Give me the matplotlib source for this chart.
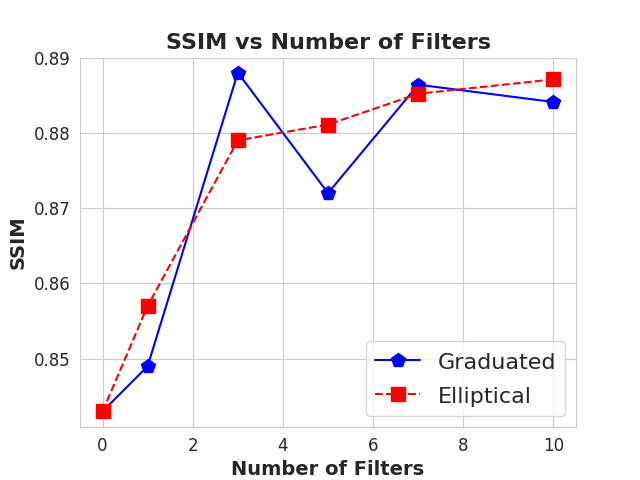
import matplotlib
matplotlib.use("Agg")
import matplotlib.pyplot as plt
import seaborn as sns

sns.set_style("whitegrid")

filters = [0, 1, 3, 5, 7, 10]
graduated = [0.843, 0.849, 0.888, 0.872, 0.8864, 0.8841]
elliptical = [0.843, 0.857, 0.879, 0.8811, 0.8852, 0.8871]

fig, ax = plt.subplots(figsize=(6.4, 4.8), dpi=100)
ax.plot(filters, graduated, color="blue", linestyle="-", marker="p", markersize=10, label="Graduated")
ax.plot(filters, elliptical, color="red", linestyle="--", marker="s", markersize=10, label="Elliptical")
ax.set_title("SSIM vs Number of Filters", fontsize=16, fontweight="bold")
ax.set_xlabel("Number of Filters", fontsize=14, fontweight="bold")
ax.set_ylabel("SSIM", fontsize=14, fontweight="bold")
ax.tick_params(labelsize=12)
ax.set_ylim(0.8409, 0.89)
ax.legend(loc="lower right", fontsize=16, handleheight=1.2, labelspacing=0.5)
fig.savefig("out.png", dpi=100)
